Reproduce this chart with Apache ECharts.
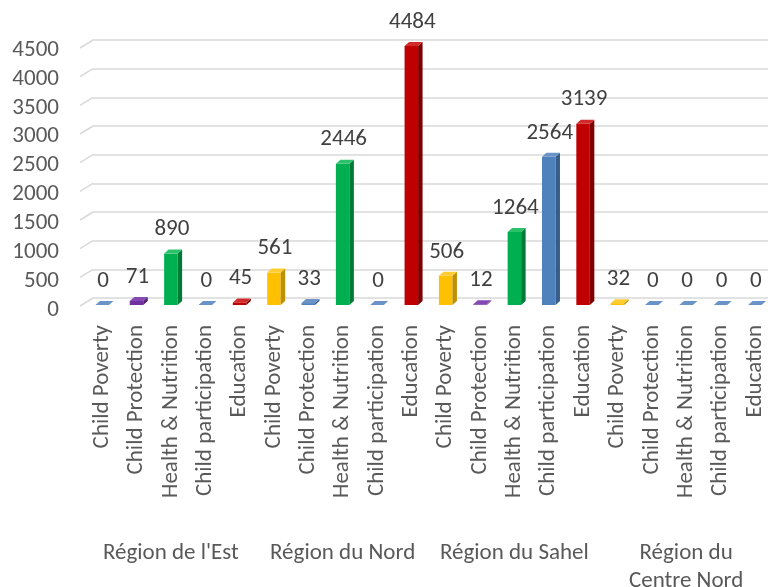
<!DOCTYPE html>
<html>
<head>
    <meta charset="utf-8" />
    <title>Régions</title>
    <script src="https://cdn.jsdelivr.net/npm/echarts@6/dist/echarts.min.js"></script>
    <style>
        html, body { margin: 0; padding: 0; background: #fff; }
        #main { width: 772px; height: 587px; }
    </style>
</head>
<body>
    <div id="main"></div>
    <script>
        // sous-catégories et régions
        var topics = ['Child Poverty', 'Child Protection', 'Health & Nutrition', 'Child participation', 'Education'];
        var regions = ["Région de l'Est", 'Région du Nord', 'Région du Sahel', 'Région du\nCentre Nord'];

        // valeurs par région (même ordre que topics)
        var estValues = [0, 71, 890, 0, 45];
        var nordValues = [561, 33, 2446, 0, 4484];
        var sahelValues = [506, 12, 1264, 2564, 3139];
        var centreNordValues = [32, 0, 0, 0, 0];

        var yTicks = [0, 500, 1000, 1500, 2000, 2500, 3000, 3500, 4000, 4500];

        // couleurs des barres (front, côté, dessus)
        var palette = {
            blue: ['#4f81bd', '#385d8a', '#6a93c8'],
            purple: ['#7030a0', '#4e2170', '#8648b3'],
            green: ['#00b050', '#007a37', '#2cc26c'],
            red: ['#c00000', '#7f0000', '#d22a2a'],
            yellow: ['#ffc000', '#bf9000', '#ffcd33']
        };
        var barColors = [
            'blue', 'purple', 'green', 'blue', 'red',
            'yellow', 'blue', 'green', 'blue', 'red',
            'yellow', 'purple', 'green', 'blue', 'red',
            'yellow', 'blue', 'blue', 'blue', 'blue'
        ];

        var categories = [];
        regions.forEach(function () { categories = categories.concat(topics); });
        var allValues = estValues.concat(nordValues, sahelValues, centreNordValues);
        var barData = allValues.map(function (v, i) { return [i, v]; });

        var FONT = 'Carlito, Calibri, "Liberation Sans", sans-serif';

        function renderBar(params, api) {
            var val = api.value(1);
            var base = api.coord([api.value(0), 0]);
            var top = api.coord([api.value(0), val]);
            var w = 13.5, dx = 4.5, dy = 4;
            var x0 = base[0] - w / 2, x1 = x0 + w;
            var yb = base[1], yt = top[1];
            var c = palette[barColors[params.dataIndex]];
            var kids = [];
            if (yb - yt > 0.5) {
                kids.push({ type: 'rect', shape: { x: x0, y: yt, width: w, height: yb - yt }, style: { fill: c[0] } });
                kids.push({ type: 'polygon', shape: { points: [[x1, yb], [x1, yt], [x1 + dx, yt - dy], [x1 + dx, yb - dy]] }, style: { fill: c[1] } });
            }
            kids.push({ type: 'polygon', shape: { points: [[x0, yt], [x1, yt], [x1 + dx, yt - dy], [x0 + dx, yt - dy]] }, style: { fill: c[2] } });
            kids.push({
                type: 'text',
                style: {
                    x: base[0] + 1, y: yt - 24, text: String(val),
                    fill: '#404040', font: '23px ' + FONT,
                    textAlign: 'center', textVerticalAlign: 'middle'
                }
            });
            return { type: 'group', children: kids };
        }

        // petits traits obliques du mur gauche
        function renderStub(params, api) {
            var p = api.coord([0, api.value(0)]);
            return {
                type: 'line',
                shape: { x1: p[0] - 13, y1: p[1] + 8, x2: p[0], y2: p[1] },
                style: { stroke: '#d9d9d9', lineWidth: 1.5 }
            };
        }

        var myChart = echarts.init(document.getElementById('main'));
        var option = {
            animation: false,
            textStyle: { fontFamily: FONT },
            grid: [
                { left: 85, right: 0, top: 45, bottom: 282, outerBoundsMode: 'none', containLabel: false },
                { left: 93, right: 4, top: 40, bottom: 289, outerBoundsMode: 'none', containLabel: false },
                { left: 85, right: 0, top: 50, bottom: 277, outerBoundsMode: 'none', containLabel: false }
            ],
            xAxis: [
                {
                    type: 'category', gridIndex: 0, data: categories,
                    axisLine: { show: false }, axisTick: { show: false },
                    axisLabel: { rotate: 90, interval: 0, margin: 20, fontSize: 23, color: '#595959', fontFamily: FONT }
                },
                {
                    type: 'category', gridIndex: 0, position: 'bottom', offset: 226, data: regions,
                    axisLine: { show: false }, axisTick: { show: false },
                    axisLabel: { interval: 0, margin: 8, fontSize: 23, lineHeight: 28, color: '#595959', fontFamily: FONT }
                },
                { type: 'value', gridIndex: 1, min: 0, max: 1, show: false },
                { type: 'value', gridIndex: 2, min: 0, max: 1, show: false }
            ],
            yAxis: [
                {
                    type: 'value', gridIndex: 0, min: 0, max: 4500, interval: 500, show: false
                },
                {
                    type: 'value', gridIndex: 1, min: 0, max: 4500, interval: 500,
                    axisLine: { show: false }, axisTick: { show: false }, axisLabel: { show: false },
                    splitLine: { lineStyle: { color: '#d9d9d9', width: 1.5 } }
                },
                {
                    type: 'value', gridIndex: 2, min: 0, max: 4500, interval: 500,
                    splitLine: { show: false }, axisLine: { show: false }, axisTick: { show: false },
                    axisLabel: {
                        margin: 26, fontSize: 23, color: '#595959', fontFamily: FONT,
                        formatter: function (v) { return String(v); }
                    }
                }
            ],
            series: [
                {
                    type: 'custom', name: 'mur', xAxisIndex: 2, yAxisIndex: 1,
                    data: yTicks, renderItem: renderStub, silent: true
                },
                {
                    type: 'custom', name: 'valeurs', xAxisIndex: 0, yAxisIndex: 0,
                    data: barData, renderItem: renderBar
                }
            ]
        };
        myChart.setOption(option);
    </script>
</body>
</html>
